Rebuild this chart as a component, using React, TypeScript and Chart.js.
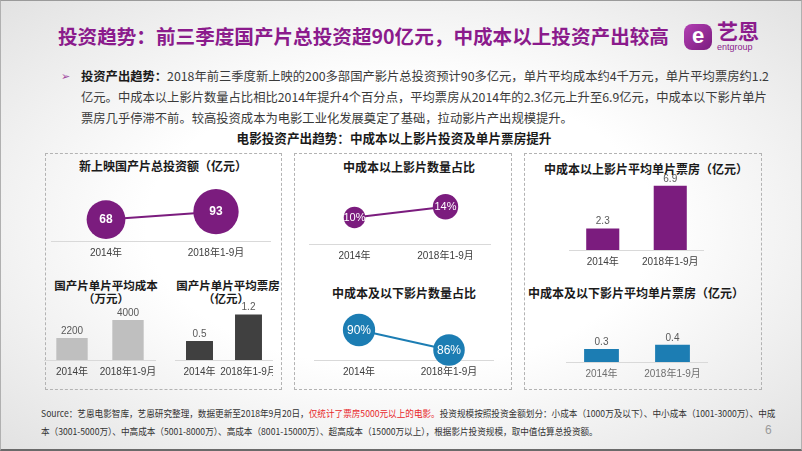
import React, { useEffect, useRef } from "react";
import { Chart, registerables } from "chart.js";
Chart.register(...registerables);

// ---------- data ----------
const years = ["2014年", "2018年1-9月"];
const totalInvest = [68, 93]; // 亿元
const avgCost = [2200, 4000]; // 万元
const avgBoxOffice = [0.5, 1.2]; // 亿元
const shareAbove = [10, 14]; // %
const shareBelow = [90, 86]; // %
const boxAbove = [2.3, 6.9]; // 亿元
const boxBelow = [0.3, 0.4]; // 亿元

const PURPLE = "#7b1c7e";
const BLUE = "#1c7db3";
const LIGHTGRAY = "#bfbfbf";
const DARKGRAY = "#404040";
const CJK = '"Noto Sans CJK SC", "Noto Sans", sans-serif';
const NUMFONT = '"Liberation Sans", "Noto Sans CJK SC", sans-serif';
const AXIS_H = 18;

type Spec = {
  left: number;
  top: number;
  w: number;
  h: number;
  padTop: number;
  kind: "bar" | "line";
  values: number[];
  color: string;
  min: number;
  max: number;
  barPct?: number;
  radiusK?: number;
  fmt: (v: number) => string;
  inside: boolean;
  labelFont: string;
  labelColor: string;
  tickColor: string;
};

const valueLabels = {
  id: "valueLabels",
  afterDatasetsDraw(chart: any, _a: any, opts: any) {
    const ctx = chart.ctx;
    const ds = chart.data.datasets[0];
    const meta = chart.getDatasetMeta(0);
    ctx.save();
    ctx.font = opts.font;
    ctx.fillStyle = opts.color;
    ctx.textAlign = "center";
    meta.data.forEach((el: any, i: number) => {
      const t = opts.fmt(ds.data[i]);
      if (opts.inside) {
        ctx.textBaseline = "middle";
        ctx.fillText(t, el.x, el.y + 0.5);
      } else {
        ctx.textBaseline = "bottom";
        ctx.fillText(t, el.x, el.y - 2);
      }
    });
    ctx.restore();
  },
};

function MiniChart({ spec }: { spec: Spec }) {
  const ref = useRef<HTMLCanvasElement>(null);
  const H = spec.padTop + spec.h + AXIS_H;
  useEffect(() => {
    const isLine = spec.kind === "line";
    const chart = new Chart(ref.current as HTMLCanvasElement, {
      type: spec.kind,
      data: {
        labels: years,
        datasets: [
          {
            data: spec.values,
            backgroundColor: spec.color,
            borderColor: spec.color,
            borderWidth: isLine ? 2 : 0,
            pointRadius: isLine ? (c: any) => (spec.radiusK as number) * Math.sqrt(c.raw) : 0,
            pointHoverRadius: isLine ? (c: any) => (spec.radiusK as number) * Math.sqrt(c.raw) : 0,
            pointBackgroundColor: spec.color,
            pointBorderWidth: 0,
            barPercentage: spec.barPct ?? 0.5,
            categoryPercentage: 1,
            clip: false,
          } as any,
        ],
      },
      options: {
        animation: false,
        responsive: false,
        events: [],
        layout: { autoPadding: false, padding: { top: spec.padTop, left: 0, right: 0, bottom: 0 } },
        plugins: {
          legend: { display: false },
          tooltip: { enabled: false },
          valueLabels: {
            fmt: spec.fmt,
            inside: spec.inside,
            font: spec.labelFont,
            color: spec.labelColor,
          },
        } as any,
        scales: {
          x: {
            offset: true,
            grid: { display: false, drawTicks: false, tickLength: 0 },
            border: { display: true, color: "#d9d9d9", width: 1 },
            ticks: {
              color: spec.tickColor,
              font: { family: NUMFONT, size: 10 },
              padding: 6,
              maxRotation: 0,
              autoSkip: false,
            },
            afterFit: (scale: any) => {
              scale.height = AXIS_H;
              scale.paddingLeft = 0;
              scale.paddingRight = 0;
            },
          },
          y: { display: false, min: spec.min, max: spec.max },
        },
      } as any,
      plugins: [valueLabels as any],
    });
    return () => chart.destroy();
  }, []);
  return (
    <canvas
      ref={ref}
      width={spec.w}
      height={H}
      style={{ position: "absolute", left: spec.left, top: spec.top - spec.padTop, width: spec.w, height: H }}
    />
  );
}

const specs: Spec[] = [
  {
    left: 50, top: 175, w: 220, h: 65, padTop: 10, kind: "line", values: totalInvest, color: PURPLE,
    min: 0, max: 206, radiusK: 2.35, fmt: (v) => String(v), inside: true,
    labelFont: `bold 12px ${NUMFONT}`, labelColor: "#ffffff", tickColor: "#404040",
  },
  {
    left: 43, top: 299, w: 112, h: 60, padTop: 15, kind: "bar", values: avgCost, color: LIGHTGRAY,
    min: 0, max: 6000, barPct: 0.56, fmt: (v) => String(v), inside: false,
    labelFont: `10px ${NUMFONT}`, labelColor: "#595959", tickColor: "#404040",
  },
  {
    left: 174, top: 299, w: 98, h: 60, padTop: 15, kind: "bar", values: avgBoxOffice, color: DARKGRAY,
    min: 0, max: 1.58, barPct: 0.55, fmt: (v) => v.toFixed(1), inside: false,
    labelFont: `10px ${NUMFONT}`, labelColor: "#595959", tickColor: "#404040",
  },
  {
    left: 308, top: 183, w: 182, h: 60, padTop: 10, kind: "line", values: shareAbove, color: PURPLE,
    min: 0, max: 22.6, radiusK: 3.4, fmt: (v) => v + "%", inside: true,
    labelFont: `11px ${NUMFONT}`, labelColor: "#ffffff", tickColor: "#404040",
  },
  {
    left: 313, top: 299, w: 180, h: 60, padTop: 10, kind: "line", values: shareBelow, color: BLUE,
    min: 84, max: 96, radiusK: 1.7, fmt: (v) => v + "%", inside: true,
    labelFont: `12px ${NUMFONT}`, labelColor: "#ffffff", tickColor: "#404040",
  },
  {
    left: 568, top: 179, w: 135, h: 70, padTop: 15, kind: "bar", values: boxAbove, color: PURPLE,
    min: 0, max: 7.53, barPct: 0.49, fmt: (v) => v.toFixed(1), inside: false,
    labelFont: `10px ${NUMFONT}`, labelColor: "#595959", tickColor: "#404040",
  },
  {
    left: 565, top: 321, w: 142, h: 40, padTop: 15, kind: "bar", values: boxBelow, color: BLUE,
    min: 0, max: 0.93, barPct: 0.49, fmt: (v) => v.toFixed(1), inside: false,
    labelFont: `10px ${NUMFONT}`, labelColor: "#595959", tickColor: "#6f6f6f",
  },
];

function CText({ x, y, size, bold, color, children }: any) {
  return (
    <div
      style={{
        position: "absolute",
        left: x,
        top: y,
        transform: "translate(-50%, -50%)",
        whiteSpace: "nowrap",
        fontSize: size,
        fontWeight: bold ? 700 : 400,
        color: color || "#1a1a1a",
        lineHeight: 1,
      }}
    >
      {children}
    </div>
  );
}

function Box({ l, t, r, b }: any) {
  return (
    <div
      style={{
        position: "absolute",
        left: l,
        top: t,
        width: r - l,
        height: b - t,
        border: "1px dashed #b3b3b3",
        boxSizing: "border-box",
      }}
    />
  );
}

export default function App() {
  const bodyLine: React.CSSProperties = {
    position: "absolute",
    left: 80,
    whiteSpace: "nowrap",
    fontSize: 12.3,
    lineHeight: 1,
    color: "#3a3a3a",
  };
  const footLine: React.CSSProperties = {
    position: "absolute",
    left: 40,
    whiteSpace: "nowrap",
    fontSize: 9.6,
    lineHeight: 1,
    color: "#333",
    transform: "scaleX(0.897)",
    transformOrigin: "0 0",
  };
  return (
    <div
      style={{
        position: "absolute",
        left: 0,
        top: 0,
        width: 802,
        height: 451,
        overflow: "hidden",
        fontFamily: CJK,
        background: "radial-gradient(ellipse at 50% 50%, #ffffff 45%, #e2e2e2 100%)",
        boxSizing: "border-box",
        borderTop: "1px solid #9a9a9a",
        borderBottom: "2px solid #6a6a6a",
        borderLeft: "1px solid #b0b0b0",
        borderRight: "1px solid #b0b0b0",
      }}
    >
      {/* title */}
      <div
        style={{
          position: "absolute",
          left: 57,
          top: 23,
          fontSize: 19.6,
          fontWeight: 700,
          color: "#8b1b8c",
          whiteSpace: "nowrap",
          lineHeight: 1.2,
        }}
      >
        投资趋势：前三季度国产片总投资超90亿元，中成本以上投资产出较高
      </div>
      {/* logo */}
      <div
        style={{
          position: "absolute",
          left: 683,
          top: 23,
          width: 28,
          height: 26,
          borderRadius: 8,
          background: "linear-gradient(135deg, #b23fb3, #7b1c7e)",
          color: "#fff",
          fontSize: 22,
          fontWeight: 700,
          lineHeight: "24px",
          textAlign: "center",
          fontFamily: NUMFONT,
        }}
      >
        e
      </div>
      <div style={{ position: "absolute", left: 716, top: 18, fontSize: 21, fontWeight: 700, color: "#8b1b8c", lineHeight: 1.1 }}>
        艺恩
      </div>
      <div style={{ position: "absolute", left: 716, top: 42, fontSize: 9, color: "#8b1b8c", lineHeight: 1, fontFamily: NUMFONT }}>
        entgroup
      </div>

      {/* body text */}
      <div style={{ position: "absolute", left: 60, top: 69, fontSize: 11, color: "#a0469f", lineHeight: 1 }}>➢</div>
      <div style={{ ...bodyLine, top: 69 }}>
        <b style={{ color: "#1a1a1a" }}>投资产出趋势：</b>
        2018年前三季度新上映的200多部国产影片总投资预计90多亿元，单片平均成本约4千万元，单片平均票房约1.2
      </div>
      <div style={{ ...bodyLine, top: 90 }}>
        亿元。中成本以上影片数量占比相比2014年提升4个百分点，平均票房从2014年的2.3亿元上升至6.9亿元，中成本以下影片单片
      </div>
      <div style={{ ...bodyLine, top: 111 }}>
        票房几乎停滞不前。较高投资成本为电影工业化发展奠定了基础，拉动影片产出规模提升。
      </div>

      <CText x={393} y={137} size={12.6} bold>
        电影投资产出趋势：中成本以上影片投资及单片票房提升
      </CText>

      <Box l={44} t={152} r={281} b={389} />
      <Box l={293} t={152} r={511} b={389} />
      <Box l={523} t={152} r={761} b={389} />

      <CText x={162} y={165} size={12} bold>新上映国产片总投资额（亿元）</CText>
      <CText x={105} y={285} size={11.5} bold>国产片单片平均成本</CText>
      <CText x={105} y={298} size={11.5} bold>（万元）</CText>
      <CText x={227} y={285} size={11.5} bold>国产片单片平均票房</CText>
      <CText x={225} y={298} size={11.5} bold>（亿元）</CText>
      <CText x={408} y={166} size={12} bold>中成本以上影片数量占比</CText>
      <CText x={403} y={292} size={12} bold>中成本及以下影片数量占比</CText>
      <CText x={645} y={168} size={12} bold>中成本以上影片平均单片票房（亿元）</CText>
      <CText x={635} y={292} size={12} bold>中成本及以下影片平均单片票房（亿元）</CText>

      {specs.map((s, i) => (
        <MiniChart key={i} spec={s} />
      ))}

      {/* footer */}
      <div style={{ ...footLine, top: 408 }}>
        Source：艺恩电影智库，艺恩研究整理，数据更新至2018年9月20日，
        <span style={{ color: "#e8282b" }}>仅统计了票房5000元以上的电影。</span>
        投资规模按照投资金额划分：小成本（1000万及以下）、中小成本（1001-3000万）、中成
      </div>
      <div style={{ ...footLine, top: 426 }}>
        本（3001-5000万）、中高成本（5001-8000万）、高成本（8001-15000万）、超高成本（15000万以上），根据影片投资规模，取中值估算总投资额。
      </div>
      <div style={{ position: "absolute", left: 764, top: 423, fontSize: 12, color: "#9a9a9a", fontFamily: NUMFONT, lineHeight: 1 }}>
        6
      </div>
    </div>
  );
}
